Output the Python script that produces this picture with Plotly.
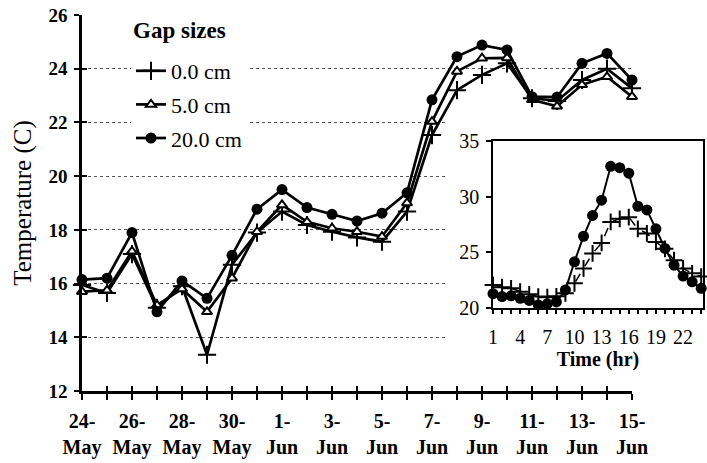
import plotly.graph_objects as go

# ---------------- data ----------------
days = ["24-May", "25-May", "26-May", "27-May", "28-May", "29-May", "30-May",
        "31-May", "1-Jun", "2-Jun", "3-Jun", "4-Jun", "5-Jun", "6-Jun",
        "7-Jun", "8-Jun", "9-Jun", "10-Jun", "11-Jun", "12-Jun", "13-Jun",
        "14-Jun", "15-Jun"]
gap_0cm = [15.95, 15.65, 17.1, 15.1, 15.9, 13.35, 16.7, 17.9, 18.68, 18.18,
           17.93, 17.72, 17.56, 18.68, 21.53, 23.2, 23.77, 24.2, 22.9, 22.8,
           23.58, 24.0, 23.27]
gap_5cm = [15.7, 15.75, 17.2, 15.2, 15.8, 14.95, 16.2, 17.93, 18.93, 18.3,
           18.06, 17.93, 17.75, 19.0, 22.03, 23.9, 24.39, 24.4, 22.84, 22.6,
           23.4, 23.7, 22.96]
gap_20cm = [16.15, 16.2, 17.9, 14.95, 16.1, 15.45, 17.05, 18.77, 19.5, 18.83,
            18.58, 18.33, 18.62, 19.38, 22.84, 24.45, 24.88, 24.7, 22.96, 22.94,
            24.2, 24.57, 23.58]

hours = list(range(1, 25))
hourly_0cm = [22.04, 21.85, 21.74, 21.44, 21.2, 21.0, 20.95, 21.02, 21.3, 22.19,
              23.53, 24.88, 25.83, 27.72, 28.0, 28.15, 27.1, 26.68, 25.92, 25.3,
              24.28, 23.53, 23.09, 22.8]
hourly_20cm = [21.26, 21.0, 21.07, 20.84, 20.65, 20.25, 20.35, 20.52, 21.6, 24.13,
               26.43, 28.3, 29.67, 32.72, 32.6, 32.1, 29.13, 28.8, 27.1, 25.33,
               23.83, 22.85, 22.33, 21.74]

main_y_ticks = [12, 14, 16, 18, 20, 22, 24, 26]
inset_y_ticks = [20, 25, 30, 35]
series_names = ["0.0 cm", "5.0 cm", "20.0 cm"]
legend_title = "Gap sizes"

# ---------------- style ----------------
FONT = "Liberation Serif"
W, H = 707, 463
x_idx = list(range(len(days)))
tick_text = [d.replace("-", "-<br>") if i % 2 == 0 else "" for i, d in enumerate(days)]

fig = go.Figure()

# main series
fig.add_trace(go.Scatter(
    x=x_idx, y=gap_0cm, name=series_names[0], legendgroup="g0",
    mode="lines+markers", cliponaxis=False,
    line=dict(color="black", width=2.7),
    marker=dict(symbol="cross-thin", size=13, color="black",
                line=dict(color="black", width=2)),
))
fig.add_trace(go.Scatter(
    x=x_idx, y=gap_5cm, name=series_names[1], legendgroup="g1",
    mode="lines+markers", cliponaxis=False,
    line=dict(color="black", width=2.7),
    marker=dict(symbol="triangle-up", size=9, color="white",
                line=dict(color="black", width=2)),
))
fig.add_trace(go.Scatter(
    x=x_idx, y=gap_20cm, name=series_names[2], legendgroup="g2",
    mode="lines+markers", cliponaxis=False,
    line=dict(color="black", width=2.7),
    marker=dict(symbol="circle", size=11, color="black"),
))

# inset series
fig.add_trace(go.Scatter(
    x=hours, y=hourly_0cm, xaxis="x2", yaxis="y2", showlegend=False,
    mode="lines+markers", cliponaxis=False,
    line=dict(color="black", width=1.5, dash="dash"),
    marker=dict(symbol="cross-thin", size=12, color="black",
                line=dict(color="black", width=2)),
))
fig.add_trace(go.Scatter(
    x=hours, y=hourly_20cm, xaxis="x2", yaxis="y2", showlegend=False,
    mode="lines+markers", cliponaxis=False,
    line=dict(color="black", width=2),
    marker=dict(symbol="circle", size=11, color="black"),
))

# empty trace carrying the overlay axes that give crossing ticks
fig.add_trace(go.Scatter(x=[], y=[], xaxis="x3", yaxis="y3",
                         showlegend=False, hoverinfo="skip"))

main_xdom = [82 / W, 632 / W]
main_ydom = [1 - 391 / H, 1 - 15 / H]
inset_xdom = [493 / W, 703 / W]
inset_ydom = [1 - 307.7 / H, 1 - 141 / H]

fig.update_layout(
    width=W, height=H,
    margin=dict(l=0, r=0, t=0, b=0, autoexpand=False),
    paper_bgcolor="white", plot_bgcolor="white",
    font=dict(family=FONT, color="black"),
    showlegend=True,
    legend=dict(
        x=131 / W, y=1 - 50 / H, xanchor="left", yanchor="top",
        bgcolor="white", borderwidth=0,
        font=dict(family=FONT, size=22, color="black"),
        tracegroupgap=2,
    ),
    annotations=[dict(
        text="<b>" + legend_title + "</b>", xref="paper", yref="paper",
        x=131 / W, y=1 - 30 / H, xanchor="left", yanchor="middle",
        showarrow=False, font=dict(family=FONT, size=23, color="black"),
    )],
    xaxis=dict(
        domain=main_xdom, anchor="y", range=[0, 22], automargin=False,
        tickmode="array", tickvals=x_idx, ticktext=tick_text,
        ticks="outside", ticklen=6, tickwidth=2, tickcolor="black",
        showline=True, linewidth=2.5, linecolor="black",
        showgrid=False, zeroline=False,
        tickfont=dict(family=FONT, size=20, weight="bold"),
        ticklabelstandoff=4,
    ),
    yaxis=dict(
        domain=main_ydom, anchor="x", range=[12, 26], automargin=False,
        tickmode="array", tickvals=main_y_ticks,
        ticks="outside", ticklen=5, tickwidth=2, tickcolor="black",
        showline=True, linewidth=2.5, linecolor="black",
        showgrid=True, gridcolor="#555555", griddash="dot", gridwidth=1,
        zeroline=False,
        tickfont=dict(family=FONT, size=19, weight="bold"),
        ticklabelstandoff=3,
        title=dict(text="Temperature (C)",
                   font=dict(family=FONT, size=25), standoff=10),
    ),
    xaxis3=dict(
        overlaying="x", anchor="y3", range=[0, 22], automargin=False,
        tickmode="array", tickvals=x_idx,
        ticks="inside", ticklen=5, tickwidth=2, tickcolor="black",
        showticklabels=False, showline=False, showgrid=False, zeroline=False,
    ),
    yaxis3=dict(
        overlaying="y", anchor="x3", range=[12, 26], automargin=False,
        tickmode="array", tickvals=main_y_ticks,
        ticks="inside", ticklen=5, tickwidth=2, tickcolor="black",
        showticklabels=False, showline=False, showgrid=False, zeroline=False,
    ),
    xaxis2=dict(
        domain=inset_xdom, anchor="y2", range=[1, 24.2], automargin=False,
        tick0=1, dtick=3,
        ticks="outside", ticklen=5, tickwidth=1.5, tickcolor="black",
        minor=dict(tick0=1, dtick=1, ticks="outside", ticklen=5,
                   tickwidth=1.5, tickcolor="black", showgrid=False),
        showline=True, mirror=True, linewidth=1.5, linecolor="black",
        showgrid=False, zeroline=False,
        tickfont=dict(family=FONT, size=20),
        ticklabelstandoff=6,
        title=dict(text="<b>Time (hr)</b>",
                   font=dict(family=FONT, size=20), standoff=2),
    ),
    yaxis2=dict(
        domain=inset_ydom, anchor="x2", range=[20, 35], automargin=False,
        tickmode="array", tickvals=inset_y_ticks,
        ticks="outside", ticklen=5, tickwidth=1.5, tickcolor="black",
        showline=True, mirror=True, linewidth=1.5, linecolor="black",
        showgrid=False, zeroline=False,
        tickfont=dict(family=FONT, size=20),
        ticklabelstandoff=3,
    ),
    shapes=[dict(
        type="rect", xref="x", yref="y", layer="between",
        x0=14.56, x1=22.5, y0=12.5, y1=23.0,
        fillcolor="white", line=dict(width=0),
    )],
)

fig.write_html("out.html")
